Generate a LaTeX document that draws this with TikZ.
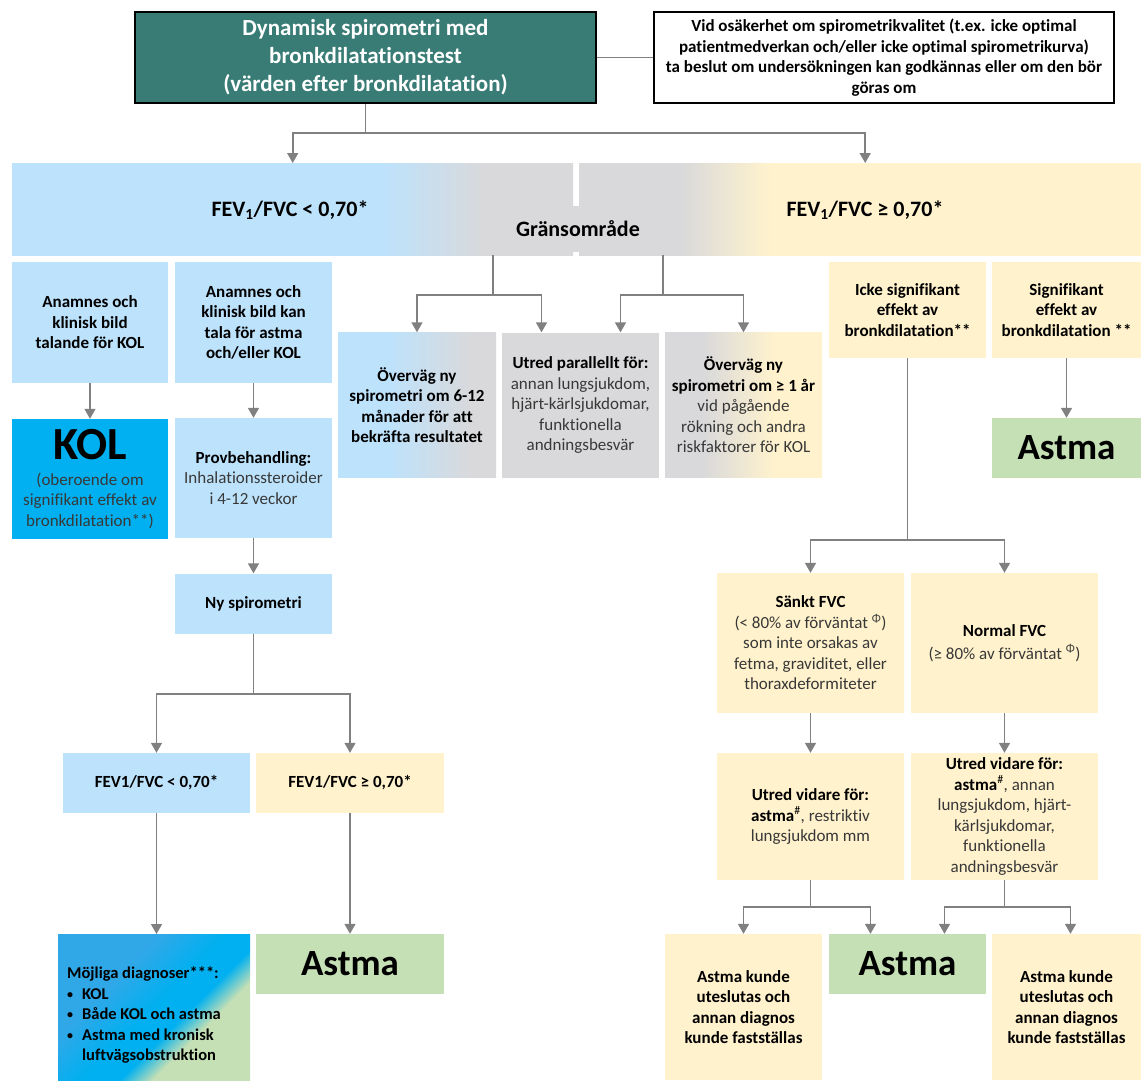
\documentclass[tikz,border=0pt]{standalone}
\usepackage{fontspec}
\setmainfont{Carlito}[Ligatures={NoCommon}]
\usetikzlibrary{arrows.meta,calc}
\definecolor{tealbox}{RGB}{56,124,117}
\definecolor{lblue}{RGB}{189,226,252}
\definecolor{cream}{RGB}{255,242,204}
\definecolor{bgray}{RGB}{217,217,219}
\definecolor{lgreen}{RGB}{197,224,180}
\definecolor{kolblue}{RGB}{0,176,240}
\definecolor{kolblueb}{RGB}{48,168,232}
\definecolor{arrgray}{RGB}{128,128,128}
\definecolor{txtgray}{RGB}{56,56,56}
\pgfdeclarehorizontalshading{bandLsh}{100bp}{color(0bp)=(lblue); color(58bp)=(lblue); color(67bp)=(bgray); color(100bp)=(bgray)}
\pgfdeclarehorizontalshading{bandRsh}{100bp}{color(0bp)=(bgray); color(34bp)=(bgray); color(42bp)=(cream); color(100bp)=(cream)}
\pgfdeclarehorizontalshading{moneSh}{100bp}{color(0bp)=(lblue); color(41bp)=(lblue); color(67bp)=(bgray); color(100bp)=(bgray)}
\pgfdeclarehorizontalshading{mthreeSh}{100bp}{color(0bp)=(bgray); color(37bp)=(bgray); color(60bp)=(cream); color(100bp)=(cream)}
\pgfdeclarehorizontalshading{diagSh}{100bp}{color(0bp)=(kolblueb); color(36bp)=(kolblueb); color(50bp)=(kolblue); color(58bp)=(kolblue); color(65bp)=(lgreen); color(100bp)=(lgreen)}
\tikzset{
  bx/.style={inner sep=2pt, align=center, font=\fontsize{17}{20.5}\selectfont},
  sz/.style 2 args={minimum width=#1pt, minimum height=#2pt},
  ln/.style={draw=arrgray, line width=1.6pt},
  arr/.style={ln, -{Triangle[width=11pt,length=10pt]}},
  bigtxt/.style={font=\fontsize{37}{40}\selectfont\bfseries},
}
\newcommand{\rg}[1]{{\mdseries\color{txtgray}#1}}
\newcommand{\smbul}{\raisebox{1pt}{\fontsize{12}{12}\selectfont\textbullet}}
\begin{document}
\begin{tikzpicture}[x=1pt,y=-1pt]
\useasboundingbox (0,0) rectangle (1141,1080);
% top
\node[bx, sz={461}{91}, fill=tealbox, draw=black, line width=1.3pt, text=white, font=\fontsize{23}{28}\selectfont\bfseries] (top) at (365.5,57.5)
  {Dynamisk spirometri med\\bronkdilatationstest\\(värden efter bronkdilatation)};
\node[bx, sz={460}{91}, fill=white, draw=black, line width=1.3pt, font=\fontsize{17}{20.5}\selectfont\bfseries] (note) at (884,57.5)
  {Vid osäkerhet om spirometrikvalitet (t.ex. icke optimal\\patientmedverkan och/eller icke optimal spirometrikurva)\\ta beslut om undersökningen kan godkännas eller om den bör\\göras om};
% band
\node[bx, sz={561}{92}, shade, shading=bandLsh, anchor=north west] (bandL) at (12,163) {};
\node[bx, sz={562}{92}, shade, shading=bandRsh, anchor=north west] (bandR) at (579,163) {};
\node[bx, sz={170}{46}, fill=bgray, font=\fontsize{22}{26}\selectfont\bfseries] (gr) at (578,229) {Gränsområde};
\node[font=\fontsize{22}{26}\selectfont\bfseries] (fevL) at (290,210) {FEV\textsubscript{1}/FVC < 0,70*};
\node[font=\fontsize{22}{26}\selectfont\bfseries] (fevR) at (865,210) {FEV\textsubscript{1}/FVC ≥ 0,70*};
% left column
\node[bx, sz={156}{121}, fill=lblue, font=\fontsize{17}{20.5}\selectfont\bfseries] (a1) at (90,322.5) {Anamnes och\\klinisk bild\\talande för KOL};
\node[bx, sz={157}{121}, fill=lblue, font=\fontsize{17}{20.5}\selectfont\bfseries] (a2) at (253.5,322.5) {Anamnes och\\klinisk bild kan\\tala för astma\\och/eller KOL};
\node[bx, sz={156}{120}, fill=kolblue] (kol) at (90,479) {{\fontsize{46}{40}\selectfont\bfseries KOL}\\[5pt]\rg{(oberoende om}\\\rg{signifikant effekt av}\\\rg{bronkdilatation**)}};
\node[bx, sz={157}{120}, fill=lblue] (prov) at (253.5,478) {\textbf{Provbehandling:}\\\rg{Inhalationssteroider}\\\rg{i 4-12 veckor}};
\node[bx, sz={157}{60}, fill=lblue, font=\fontsize{17}{20.5}\selectfont\bfseries] (ny) at (253.5,603.5) {Ny spirometri};
\node[bx, sz={187}{60}, fill=lblue, font=\fontsize{17}{20.5}\selectfont\bfseries] (fl) at (156.5,783) {FEV1/FVC < 0,70*};
\node[bx, sz={188}{60}, fill=cream, font=\fontsize{17}{20.5}\selectfont\bfseries] (fg) at (350,783) {FEV1/FVC ≥ 0,70*};
\node[sz={192}{146}, shade, shading=diagSh, shading angle=-45, anchor=north west] (moj) at (58,934) {};
\node[anchor=west, align=left, inner sep=0pt, font=\fontsize{16.5}{20.5}\selectfont\bfseries] (mojt) at (67,1015)
  {Möjliga diagnoser***:\\
   \smbul\hspace{9pt}KOL\\
   \smbul\hspace{9pt}Både KOL och astma\\
   \smbul\hspace{9pt}Astma med kronisk\\
   \hphantom{\smbul}\hspace{9pt}luftvägsobstruktion};
\node[bx, sz={188}{60}, fill=lgreen, bigtxt] (astL) at (350,964) {Astma};
% middle
\node[bx, sz={158}{145}, shade, shading=moneSh, font=\fontsize{17}{20.5}\selectfont\bfseries] (m1) at (417,405) {Överväg ny\\spirometri om 6-12\\månader för att\\bekräfta resultatet};
\node[bx, sz={157}{145}, fill=bgray] (m2) at (580.5,405) {\textbf{Utred parallellt för:}\\\rg{annan lungsjukdom,}\\\rg{hjärt-kärlsjukdomar,}\\\rg{funktionella}\\\rg{andningsbesvär}};
\node[bx, sz={157}{145}, shade, shading=mthreeSh] (m3) at (743.5,405) {\textbf{Överväg ny}\\\textbf{spirometri om ≥ 1 år}\\\rg{vid pågående}\\\rg{rökning och andra}\\\rg{riskfaktorer för KOL}};
% right column
\node[bx, sz={157}{96}, fill=cream, font=\fontsize{17}{20.5}\selectfont\bfseries] (r1) at (907.5,310) {Icke signifikant\\effekt av\\bronkdilatation**};
\node[bx, sz={149}{96}, fill=cream, font=\fontsize{17}{20.5}\selectfont\bfseries] (r2) at (1066.5,310) {Signifikant\\effekt av\\bronkdilatation **};
\node[bx, sz={149}{60}, fill=lgreen, bigtxt] (astR) at (1066.5,448) {Astma};
\node[bx, sz={187}{140}, fill=cream] (sankt) at (810.5,643) {\textbf{Sänkt FVC}\\\rg{(< 80\% av förväntat \textsuperscript{Φ})}\\\rg{som inte orsakas av}\\\rg{fetma, graviditet, eller}\\\rg{thoraxdeformiteter}};
\node[bx, sz={187}{140}, fill=cream] (norm) at (1004.5,643) {\textbf{Normal FVC}\\[2pt]\rg{(≥ 80\% av förväntat \textsuperscript{Φ})}};
\node[bx, sz={187}{127}, fill=cream] (ut1) at (810.5,816.5) {\textbf{Utred vidare för:}\\\textbf{astma}\textsuperscript{\#}\rg{, restriktiv}\\\rg{lungsjukdom mm}};
\node[bx, sz={187}{127}, fill=cream] (ut2) at (1004.5,816.5) {\textbf{Utred vidare för:}\\\textbf{astma}\textsuperscript{\#}\rg{, annan}\\\rg{lungsjukdom, hjärt-}\\\rg{kärlsjukdomar,}\\\rg{funktionella}\\\rg{andningsbesvär}};
\node[bx, sz={157}{146}, fill=cream, font=\fontsize{17}{20.5}\selectfont\bfseries] (bl) at (743.5,1007) {Astma kunde\\uteslutas och\\annan diagnos\\kunde fastställas};
\node[bx, sz={157}{60}, fill=lgreen, bigtxt] (astM) at (907.5,964) {Astma};
\node[bx, sz={149}{146}, fill=cream, font=\fontsize{17}{20.5}\selectfont\bfseries] (br) at (1066.5,1007) {Astma kunde\\uteslutas och\\annan diagnos\\kunde fastställas};
% connectors
\draw[ln] (top.east) -- (top.east -| note.west);
\coordinate (j0) at (365.5,133);
\draw[ln] (top.south) -- (j0);
\draw[arr] (j0) -| (bandL.north);
\draw[arr] (j0) -| ($(bandR.north)+(5,0)$);
\coordinate (g1) at (493,255);
\coordinate (g2) at (663,255);
\draw[ln] (g1) -- ++(0,40) coordinate (g1b);
\draw[ln] (g2) -- ++(0,40) coordinate (g2b);
\draw[arr] (g1b) -| (m1.north);
\draw[arr] (g1b) -| ($(m2.north)+(-39,0)$);
\draw[arr] (g2b) -| ($(m2.north)+(40,0)$);
\draw[arr] (g2b) -| (m3.north);
\draw[arr] (a1) -- (kol);
\draw[arr] (a2) -- (prov);
\draw[arr] (prov) -- (ny);
\coordinate (j1) at (253.5,694);
\draw[ln] (ny.south) -- (j1);
\draw[arr] (j1) -| (fl.north);
\draw[arr] (j1) -| (fg.north);
\draw[arr] (fl.south) -- (fl.south |- moj.north);
\draw[arr] (fg) -- (astL);
\draw[arr] (r2) -- (astR);
\coordinate (j2) at (907.5,540);
\draw[ln] (r1.south) -- (j2);
\draw[arr] (j2) -| (sankt.north);
\draw[arr] (j2) -| (norm.north);
\draw[arr] (sankt) -- (ut1);
\draw[arr] (norm) -- (ut2);
\coordinate (j3) at (810.5,907);
\coordinate (j4) at (1004.5,907);
\draw[ln] (ut1.south) -- (j3);
\draw[ln] (ut2.south) -- (j4);
\draw[arr] (j3) -| (bl.north);
\draw[arr] (j3) -| ($(astM.north)+(-37,0)$);
\draw[arr] (j4) -| ($(astM.north)+(37,0)$);
\draw[arr] (j4) -| ($(br.north)+(4,0)$);
\end{tikzpicture}
\end{document}
